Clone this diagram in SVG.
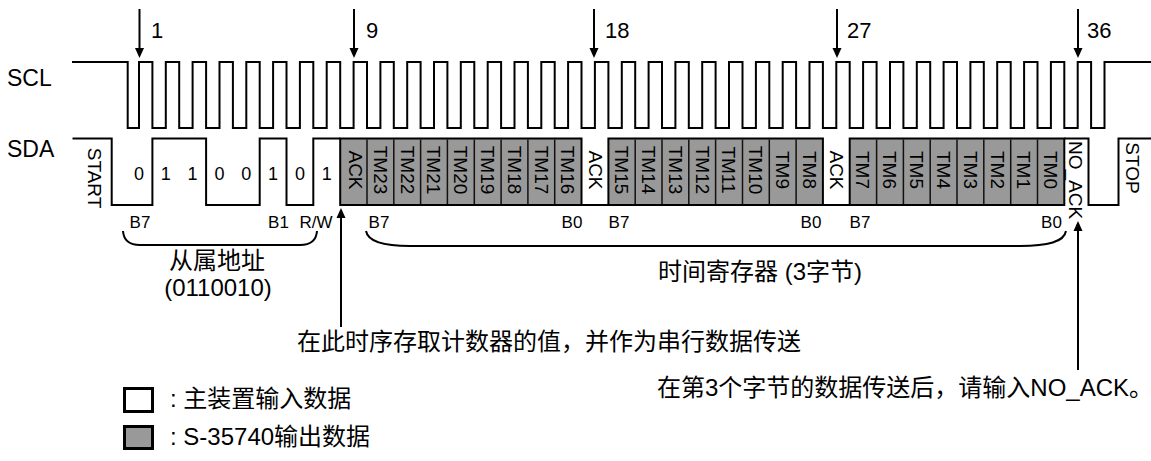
<svg xmlns="http://www.w3.org/2000/svg" width="1151" height="461" viewBox="0 0 1151 461">
<style>
text{font-family:"Liberation Sans","Noto Sans CJK SC",sans-serif;fill:#000}
.wave{fill:none;stroke:#000;stroke-width:2;stroke-linejoin:miter}
.box{fill:#999;stroke:#000;stroke-width:2}
.div{stroke:#111;stroke-width:1.5}
.rot{font-size:19px;text-anchor:middle}
.bit{font-size:18px;text-anchor:middle}
.num{font-size:22px}
.sig{font-size:23px}
.bl{font-size:17px;text-anchor:middle}
.cn{font-size:24px}
.arr{stroke:#000;stroke-width:2;fill:none}
.brace{fill:none;stroke:#000;stroke-width:2}
</style>
<defs>
<marker id="ah" viewBox="0 0 10 10" markerWidth="10" markerHeight="10" refX="5" refY="5" orient="auto" markerUnits="userSpaceOnUse">
<path d="M0,0.5 L10,5 L0,9.5 z" fill="#000"/>
</marker>
</defs>

<g id="labels-signals">
<text class="sig" x="7" y="86">SCL</text>
<text class="sig" x="7" y="157">SDA</text>
</g>

<g id="scl">
<path class="wave" d="M72,62 H127.7 V128 H139 V62 H152.4 V128 H165.8 V62 H179.2 V128 H192.6 V62 H206.1 V128 H219.5 V62 H232.9 V128 H246.3 V62 H259.7 V128 H273.1 V62 H286.5 V128 H299.9 V62 H313.3 V128 H326.7 V62 H340.2 V128 H353.6 V62 H367 V128 H380.4 V62 H393.8 V128 H407.2 V62 H420.6 V128 H434 V62 H447.4 V128 H460.8 V62 H474.3 V128 H487.7 V62 H501.1 V128 H514.5 V62 H527.9 V128 H541.3 V62 H554.7 V128 H568.1 V62 H581.5 V128 H594.9 V62 H608.4 V128 H621.8 V62 H635.2 V128 H648.6 V62 H662 V128 H675.4 V62 H688.8 V128 H702.2 V62 H715.6 V128 H729 V62 H742.5 V128 H755.9 V62 H769.3 V128 H782.7 V62 H796.1 V128 H809.5 V62 H822.9 V128 H836.3 V62 H849.7 V128 H863.1 V62 H876.6 V128 H890 V62 H903.4 V128 H916.8 V62 H930.2 V128 H943.6 V62 H957 V128 H970.4 V62 H983.8 V128 H997.2 V62 H1010.7 V128 H1024.1 V62 H1037.5 V128 H1050.9 V62 H1064.3 V128 H1077.7 V62 H1091.1 V128 H1104.5 V62 H1151"/>
</g>

<g id="clock-markers">
<line class="arr" x1="139.5" y1="9" x2="139.5" y2="53" marker-end="url(#ah)"/>
<line class="arr" x1="354" y1="9" x2="354" y2="53" marker-end="url(#ah)"/>
<line class="arr" x1="594" y1="9" x2="594" y2="53" marker-end="url(#ah)"/>
<line class="arr" x1="837" y1="9" x2="837" y2="53" marker-end="url(#ah)"/>
<line class="arr" x1="1078" y1="9" x2="1078" y2="53" marker-end="url(#ah)"/>
<text class="num" x="151" y="38">1</text>
<text class="num" x="366" y="38">9</text>
<text class="num" x="605" y="38">18</text>
<text class="num" x="847" y="38">27</text>
<text class="num" x="1087" y="38">36</text>
</g>

<g id="sda">
<path class="wave" d="M72.5,138.5 H111.7 V205 H152.4 V138.5 H206.1 V205 H259.7 V138.5 H286.5 V205 H313.3 V138.5 H340.2"/>
<path class="wave" d="M581.5,205 H608.4"/>
<path class="wave" d="M822.9,205 H849.7"/>
<path class="wave" d="M1064.3,138.5 H1088.5 V205 H1118.5 V138.5 H1151"/>
</g>

<g id="byte1">
<rect class="box" x="340.2" y="138.5" width="241.3" height="66.5"/>
<g class="div">
<line x1="367" y1="139.5" x2="367" y2="204"/><line x1="393.8" y1="139.5" x2="393.8" y2="204"/><line x1="420.6" y1="139.5" x2="420.6" y2="204"/><line x1="447.4" y1="139.5" x2="447.4" y2="204"/><line x1="474.3" y1="139.5" x2="474.3" y2="204"/><line x1="501.1" y1="139.5" x2="501.1" y2="204"/><line x1="527.9" y1="139.5" x2="527.9" y2="204"/><line x1="554.7" y1="139.5" x2="554.7" y2="204"/>
</g>
</g>
<g id="byte2">
<rect class="box" x="608.4" y="138.5" width="214.5" height="66.5"/>
<g class="div">
<line x1="635.2" y1="139.5" x2="635.2" y2="204"/><line x1="662" y1="139.5" x2="662" y2="204"/><line x1="688.8" y1="139.5" x2="688.8" y2="204"/><line x1="715.6" y1="139.5" x2="715.6" y2="204"/><line x1="742.5" y1="139.5" x2="742.5" y2="204"/><line x1="769.3" y1="139.5" x2="769.3" y2="204"/><line x1="796.1" y1="139.5" x2="796.1" y2="204"/>
</g>
</g>
<g id="byte3">
<rect class="box" x="849.7" y="138.5" width="214.6" height="66.5"/>
<g class="div">
<line x1="876.6" y1="139.5" x2="876.6" y2="204"/><line x1="903.4" y1="139.5" x2="903.4" y2="204"/><line x1="930.2" y1="139.5" x2="930.2" y2="204"/><line x1="957" y1="139.5" x2="957" y2="204"/><line x1="983.8" y1="139.5" x2="983.8" y2="204"/><line x1="1010.7" y1="139.5" x2="1010.7" y2="204"/><line x1="1037.5" y1="139.5" x2="1037.5" y2="204"/>
</g>
</g>

<g id="cell-labels">
<text class="rot" transform="translate(95,178) rotate(90)" dy="0.35em">START</text>
<text class="bit" x="139" y="180">0</text>
<text class="bit" x="165.8" y="180">1</text>
<text class="bit" x="192.6" y="180">1</text>
<text class="bit" x="219.5" y="180">0</text>
<text class="bit" x="246.3" y="180">0</text>
<text class="bit" x="273.1" y="180">1</text>
<text class="bit" x="299.9" y="180">0</text>
<text class="bit" x="326.7" y="180">1</text>
<text class="rot" transform="translate(356,170) rotate(90)" dy="0.35em">ACK</text>
<text class="rot" transform="translate(380.4,170) rotate(90)" dy="0.35em">TM23</text>
<text class="rot" transform="translate(407.2,170) rotate(90)" dy="0.35em">TM22</text>
<text class="rot" transform="translate(434,170) rotate(90)" dy="0.35em">TM21</text>
<text class="rot" transform="translate(460.8,170) rotate(90)" dy="0.35em">TM20</text>
<text class="rot" transform="translate(487.7,170) rotate(90)" dy="0.35em">TM19</text>
<text class="rot" transform="translate(514.5,170) rotate(90)" dy="0.35em">TM18</text>
<text class="rot" transform="translate(541.3,170) rotate(90)" dy="0.35em">TM17</text>
<text class="rot" transform="translate(568.1,170) rotate(90)" dy="0.35em">TM16</text>
<text class="rot" transform="translate(595.5,170) rotate(90)" dy="0.35em">ACK</text>
<text class="rot" transform="translate(621.8,170) rotate(90)" dy="0.35em">TM15</text>
<text class="rot" transform="translate(648.6,170) rotate(90)" dy="0.35em">TM14</text>
<text class="rot" transform="translate(675.4,170) rotate(90)" dy="0.35em">TM13</text>
<text class="rot" transform="translate(702.2,170) rotate(90)" dy="0.35em">TM12</text>
<text class="rot" transform="translate(729,170) rotate(90)" dy="0.35em">TM11</text>
<text class="rot" transform="translate(755.9,170) rotate(90)" dy="0.35em">TM10</text>
<text class="rot" transform="translate(782.7,170) rotate(90)" dy="0.35em">TM9</text>
<text class="rot" transform="translate(809.5,170) rotate(90)" dy="0.35em">TM8</text>
<text class="rot" transform="translate(836.8,170) rotate(90)" dy="0.35em">ACK</text>
<text class="rot" transform="translate(863.1,170) rotate(90)" dy="0.35em">TM7</text>
<text class="rot" transform="translate(890,170) rotate(90)" dy="0.35em">TM6</text>
<text class="rot" transform="translate(916.8,170) rotate(90)" dy="0.35em">TM5</text>
<text class="rot" transform="translate(943.6,170) rotate(90)" dy="0.35em">TM4</text>
<text class="rot" transform="translate(970.4,170) rotate(90)" dy="0.35em">TM3</text>
<text class="rot" transform="translate(997.2,170) rotate(90)" dy="0.35em">TM2</text>
<text class="rot" transform="translate(1024.1,170) rotate(90)" dy="0.35em">TM1</text>
<text class="rot" transform="translate(1050.9,170) rotate(90)" dy="0.35em">TM0</text>
<text class="rot" transform="translate(1076,141) rotate(90)" dy="0.35em" style="text-anchor:start">NO_ACK</text>
<text class="rot" transform="translate(1133,168) rotate(90)" dy="0.35em">STOP</text>
</g>

<g id="bit-labels">
<text class="bl" x="140" y="228">B7</text>
<text class="bl" x="278.5" y="228">B1</text>
<text class="bl" x="316" y="228">R/W</text>
<text class="bl" x="379" y="228">B7</text>
<text class="bl" x="572" y="228">B0</text>
<text class="bl" x="619" y="228">B7</text>
<text class="bl" x="811" y="228">B0</text>
<text class="bl" x="860" y="228">B7</text>
<text class="bl" x="1051.5" y="228">B0</text>
</g>

<g id="braces">
<path class="brace" d="M123,231 Q124,245 140,245 H300 Q316,245 317,231"/>
<path class="brace" d="M366,231 C368,242 385,246 410,246 H1020 C1048,246 1064,242 1066,231"/>
</g>

<g id="slave-address">
<text class="cn" x="217" y="269" text-anchor="middle">从属地址</text>
<text class="cn" x="218" y="296" text-anchor="middle">(0110010)</text>
</g>
<g id="time-register">
<text class="cn" x="658" y="280">时间寄存器 (3字节)</text>
</g>

<g id="connectors">
<line class="arr" x1="341" y1="327" x2="341" y2="213" marker-end="url(#ah)"/>
<line class="arr" x1="1078" y1="370" x2="1078" y2="226" marker-end="url(#ah)"/>
</g>

<g id="note-latch">
<text class="cn" x="297" y="350">在此时序存取计数器的值，并作为串行数据传送</text>
</g>
<g id="note-noack">
<text class="cn" x="657" y="396">在第3个字节的数据传送后，请输入NO_ACK。</text>
</g>

<g id="legend-master">
<rect x="124.5" y="388.5" width="28" height="23" fill="#fff" stroke="#000" stroke-width="3"/>
<text class="cn" x="170" y="407">: 主装置输入数据</text>
</g>
<g id="legend-slave">
<rect x="124.5" y="426.5" width="28" height="22" fill="#999" stroke="#000" stroke-width="3"/>
<text class="cn" x="170" y="445">: S-35740输出数据</text>
</g>
</svg>
